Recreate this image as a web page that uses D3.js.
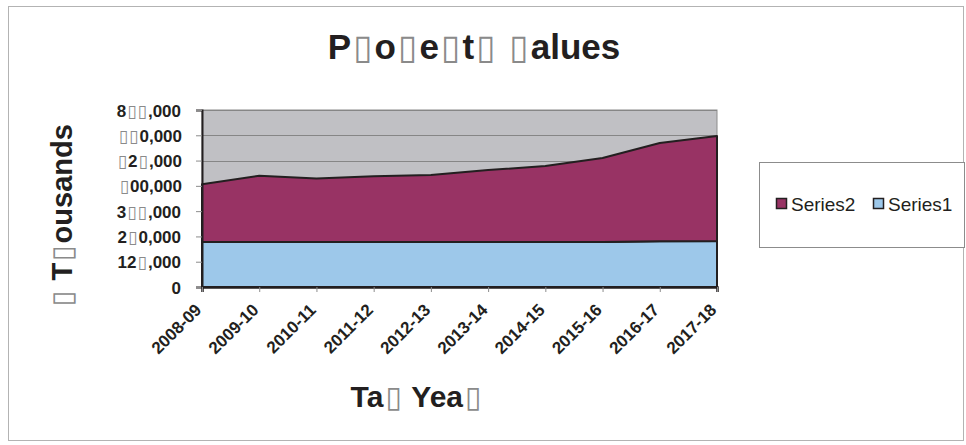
<!DOCTYPE html>
<html>
<head>
<meta charset="utf-8">
<script src="https://cdn.jsdelivr.net/npm/d3@7"></script>
<style>
  html, body { margin: 0; padding: 0; background: #ffffff; }
  svg { display: block; font-family: "Liberation Sans", Arial, sans-serif; }
</style>
</head>
<body>
<svg id="chart" width="966" height="445"></svg>
<script>
// ---- data ----
const categories = ["2008-09","2009-10","2010-11","2011-12","2012-13","2013-14","2014-15","2015-16","2016-17","2017-18"];
const series1 = [222000, 222000, 222000, 222000, 222000, 222000, 222000, 222000, 226000, 227000];
const series2 = [286000, 328000, 314000, 326000, 332000, 356000, 376000, 416000, 486000, 519000];
const seriesNames = ["Series1", "Series2"];
const yTicks = [0, 125000, 250000, 375000, 500000, 625000, 750000, 875000];
// tick labels as they appear in the reference (▯ marks glyphs the original font could not show)
const yTickLabels = ["0", "12▯,000", "2▯0,000", "3▯▯,000", "▯00,000", "▯2▯,000", "▯▯0,000", "8▯▯,000"];
const titleText = "P▯o▯e▯t▯ ▯alues";
const xTitleText = "Ta▯ Yea▯";
const yTitleText = "▯ T▯ousands";
const colors = { Series1: "#9dc8ea", Series2: "#983364" };

// ---- layout ----
const svg = d3.select("#chart");
const plot = { left: 202, top: 110, right: 717, bottom: 287 };

// helper: write text where '▯' is drawn as a thin grey box glyph
function writeText(sel, str) {
  const parts = str.split(/(▯)/).filter(s => s.length);
  let prevBox = false;
  parts.forEach(p => {
    const t = sel.append("tspan").text(p);
    if (p === "▯") {
      t.attr("font-weight", "normal").attr("fill", "#8a8a8a")
        .attr("font-family", "DejaVu Sans").attr("dx", "0.06em");
      prevBox = true;
    } else {
      if (prevBox) t.attr("dx", "0.06em");
      prevBox = false;
    }
  });
  return sel;
}

// outer border
svg.append("rect").attr("x", 8.5).attr("y", 6.5).attr("width", 955).attr("height", 434)
  .attr("fill", "none").attr("stroke", "#b3b3b3").attr("stroke-width", 1);

const x = d3.scalePoint().domain(categories).range([plot.left, plot.right]);
const y = d3.scaleLinear().domain([0, 875000]).range([plot.bottom, plot.top]);

// plot background
svg.append("rect").attr("x", plot.left).attr("y", plot.top)
  .attr("width", plot.right - plot.left).attr("height", plot.bottom - plot.top)
  .attr("fill", "#c0c0c4").attr("stroke", "#8c8c8c").attr("stroke-width", 1);

// gridlines
svg.append("g").selectAll("line").data(yTicks.filter(d => d > 0)).join("line")
  .attr("x1", plot.left).attr("x2", plot.right)
  .attr("y1", d => Math.round(y(d)) + 0.5).attr("y2", d => Math.round(y(d)) + 0.5)
  .attr("stroke", "#868686").attr("stroke-width", 1);

// stacked areas
const table = categories.map((c, i) => ({ cat: c, Series1: series1[i], Series2: series2[i] }));
const stacked = d3.stack().keys(seriesNames)(table);
const area = d3.area()
  .x(d => x(d.data.cat))
  .y0(d => y(d[0]))
  .y1(d => y(d[1]));
svg.append("g").selectAll("path").data(stacked).join("path")
  .attr("d", area)
  .attr("fill", d => colors[d.key])
  .attr("stroke", "#231f20").attr("stroke-width", 2).attr("stroke-linejoin", "round");

// y axis
const yAxis = d3.axisLeft(y).tickValues(yTicks)
  .tickFormat(() => "").tickSize(6).tickPadding(4);
const gy = svg.append("g").attr("transform", `translate(${plot.left},0)`).call(yAxis);
gy.select(".domain").attr("stroke", "#231f20").attr("stroke-width", 2);
gy.selectAll(".tick line").attr("stroke", "#8c8c8c");
gy.selectAll(".tick").each(function(d) {
  const t = d3.select(this).append("text")
    .attr("x", -21).attr("dy", "0.36em")
    .attr("text-anchor", "end").attr("fill", "#231f20")
    .attr("font-size", 17).attr("font-weight", "bold");
  writeText(t, yTickLabels[yTicks.indexOf(d)]);
});

// x axis
const xAxis = d3.axisBottom(x).tickSize(5).tickFormat("");
const gx = svg.append("g").attr("transform", `translate(0,${plot.bottom})`).call(xAxis);
gx.select(".domain").attr("stroke", "#231f20").attr("stroke-width", 2.5);
gx.selectAll(".tick line").attr("stroke", "#8c8c8c");
gx.selectAll(".tick").append("text")
  .attr("transform", "translate(0,24) rotate(-45)")
  .attr("text-anchor", "end").attr("fill", "#231f20")
  .attr("font-size", 17).attr("font-weight", "bold")
  .text(d => d);

// title
writeText(svg.append("text").attr("x", 474).attr("y", 59)
  .attr("text-anchor", "middle").attr("font-size", 35).attr("font-weight", "bold")
  .attr("fill", "#231f20"), titleText);

// x axis title
writeText(svg.append("text").attr("x", 416).attr("y", 407)
  .attr("text-anchor", "middle").attr("font-size", 30).attr("font-weight", "bold")
  .attr("fill", "#231f20"), xTitleText);

// y axis title
writeText(svg.append("text").attr("transform", "translate(72,217) rotate(-90)")
  .attr("text-anchor", "middle").attr("font-size", 29).attr("font-weight", "bold")
  .attr("fill", "#231f20"), yTitleText);

// legend
svg.append("rect").attr("x", 759.5).attr("y", 162.5).attr("width", 205).attr("height", 85)
  .attr("fill", "#ffffff").attr("stroke", "#8c8c8c").attr("stroke-width", 1);
const legendItems = [
  { key: "Series2", x: 776 },
  { key: "Series1", x: 873 }
];
const lg = svg.append("g").selectAll("g").data(legendItems).join("g")
  .attr("transform", d => `translate(${d.x},0)`);
lg.append("rect").attr("x", 0.5).attr("y", 198.5).attr("width", 10).attr("height", 10)
  .attr("fill", d => colors[d.key]).attr("stroke", "#231f20").attr("stroke-width", 1.5);
lg.append("text").attr("x", 15).attr("y", 211)
  .attr("font-size", 19).attr("fill", "#231f20")
  .text(d => d.key);
</script>
</body>
</html>
